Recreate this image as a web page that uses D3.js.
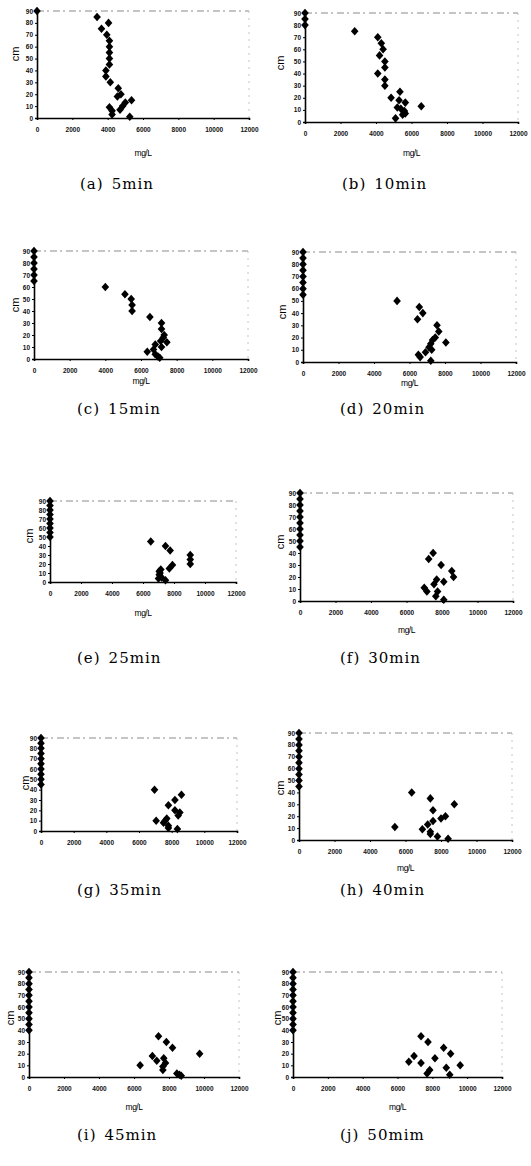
<!DOCTYPE html>
<html>
<head>
<meta charset="utf-8">
<script src="https://cdn.jsdelivr.net/npm/d3@7"></script>
<style>
body { margin: 0; background: #fff; }
</style>
</head>
<body>
<div id="fig"></div>
<script>
var width = 531;
var height = 1166;

// axis ticks shared by every panel
var xTicks = [0, 2000, 4000, 6000, 8000, 10000, 12000];
var yTicks = [0, 10, 20, 30, 40, 50, 60, 70, 80, 90];

// [concentration mg/L, depth cm]
var points5 = [[0,90],[3400,85],[4050,80],[3650,75],[3950,70],[4100,65],[4100,60],[4100,55],[4100,50],[4100,45],
    [3900,40],[3900,35],[4150,30],[4600,25],[4750,20],[4550,18],[5350,15],[5000,13],[4850,10],[4100,9],
    [4700,7],[4250,6],[4250,3],[5250,1]];
var points10 = [[0,90],[0,85],[0,80],[2800,75],[4100,70],[4300,65],[4400,60],[4200,55],[4500,50],[4500,45],
    [4100,40],[4500,35],[4500,30],[5350,25],[4850,20],[5300,18],[5650,16],[6550,13],[5200,12],[5400,11],
    [5600,9],[5650,7],[5500,6],[5100,3]];
var points15 = [[0,90],[0,85],[0,80],[0,75],[0,70],[0,65],[4000,60],[5100,54],[5450,50],[5500,45],[5500,40],
    [6500,35],[7150,30],[7150,25],[7300,20],[7250,18],[7450,14],[7100,15],[7150,10],[6800,12],[6700,8],
    [6350,6],[6800,4],[6950,2],[7050,1]];
var points20 = [[0,90],[0,85],[0,80],[0,75],[0,70],[0,65],[0,60],[0,55],[5300,50],[6550,45],[6750,40],
    [6450,35],[7550,30],[7650,25],[7450,20],[7300,18],[7200,15],[7100,12],[7250,10],[6900,8],[8050,16],
    [6500,6],[6600,4],[7200,1]];
var points25 = [[0,90],[0,85],[0,80],[0,75],[0,70],[0,65],[0,60],[0,55],[0,50],[6500,45],[7450,40],[7750,35],
    [9050,30],[9050,25],[9050,20],[7900,19],[7700,15],[7150,14],[7050,12],[7100,10],[7050,8],[7200,5],
    [7000,4],[7450,2]];
var points30 = [[0,90],[0,85],[0,80],[0,75],[0,70],[0,65],[0,60],[0,55],[0,50],[0,45],[7500,40],[7250,35],
    [7950,30],[8550,25],[8650,20],[7700,18],[8100,16],[7550,14],[7000,11],[7150,8],[7750,8],[7650,4],
    [8100,1]];
var points35 = [[0,90],[0,85],[0,80],[0,75],[0,70],[0,65],[0,60],[0,55],[0,50],[0,45],[6950,40],[8600,35],
    [8200,30],[7800,25],[8200,20],[8500,18],[8400,15],[7700,12],[7600,10],[7050,10],[7500,8],[7800,5],
    [7800,3],[8350,2]];
var points40 = [[0,90],[0,85],[0,80],[0,75],[0,70],[0,65],[0,60],[0,55],[0,50],[0,45],[6350,40],[7400,35],
    [8750,30],[7550,25],[8250,20],[8000,18],[7550,16],[7250,13],[5400,11],[6950,9],[7400,7],[7400,5],
    [7800,3],[8400,1]];
var points45 = [[0,90],[0,85],[0,80],[0,75],[0,70],[0,65],[0,60],[0,55],[0,50],[0,45],[0,40],[7400,35],
    [7850,30],[8200,25],[9750,20],[7050,18],[7700,16],[7300,14],[7800,12],[6350,10],[7650,9],[7650,6],
    [8450,3],[8600,2],[8700,1]];
var points50 = [[0,90],[0,85],[0,80],[0,75],[0,70],[0,65],[0,60],[0,55],[0,50],[0,45],[0,40],[7350,35],
    [7750,30],[8650,25],[9050,20],[6950,18],[8150,16],[6650,13],[7350,12],[9600,10],[8800,8],[7850,6],
    [7700,3],[9000,2]];

var allPoints = [points5, points10, points15, points20, points25, points30, points35, points40, points45, points50];
var captionLetters = ["(a)", "(b)", "(c)", "(d)", "(e)", "(f)", "(g)", "(h)", "(i)", "(j)"];
var captionTimes = ["5min", "10min", "15min", "20min", "25min", "30min", "35min", "40min", "45min", "50mim"];
var yTitle = "cm";
var xTitle = "mg/L";

// plot frames of the scanned panels (they are not all the same size)
var frames = [
    {l: 37, t: 11, r: 249, b: 118, cmX: 15, cmY: 54, labY: 153, capX: 80, capY: 184},
    {l: 305, t: 13, r: 518, b: 122, cmX: 280, cmY: 63, labY: 153, capX: 342, capY: 184},
    {l: 34, t: 251, r: 248, b: 359, cmX: 15, cmY: 305, labY: 381, capX: 77, capY: 409},
    {l: 303, t: 252, r: 516, b: 362, cmX: 282, cmY: 312, labY: 383, capX: 340, capY: 409},
    {l: 50, t: 501, r: 236, b: 582, cmX: 29, cmY: 536, labY: 613, capX: 77, capY: 658},
    {l: 300, t: 493, r: 513, b: 601, cmX: 280, cmY: 542, labY: 630, capX: 340, capY: 658},
    {l: 41, t: 738, r: 237, b: 831, cmX: 25, cmY: 783, labY: null, capX: 77, capY: 890},
    {l: 299, t: 733, r: 512, b: 840, cmX: 280, cmY: 788, labY: 868, capX: 340, capY: 890},
    {l: 29, t: 972, r: 239, b: 1077, cmX: 10, cmY: 1018, labY: 1107, capX: 77, capY: 1135},
    {l: 293, t: 972, r: 502, b: 1077, cmX: 277, cmY: 1018, labY: 1107, capX: 340, capY: 1135}
];

var svg = d3.select("#fig").append("svg")
    .attr("width", width)
    .attr("height", height)
    .style("font-family", "'Liberation Sans', Arial, sans-serif");

// Excel style diamond = square turned 45 degrees
var diamond = d3.symbol().type(d3.symbolSquare).size(29);

frames.forEach(function (f, i) {
    var g = svg.append("g");
    var x = d3.scaleLinear().domain([0, 12000]).range([f.l, f.r]);
    var y = d3.scaleLinear().domain([0, 90]).range([f.b, f.t]);

    // faint plot-area border (top / right)
    g.append("line").attr("x1", x(0)).attr("x2", x(12000)).attr("y1", y(90)).attr("y2", y(90))
        .attr("stroke", "#8a8a8a").attr("stroke-width", 1).attr("stroke-dasharray", "7,3,2,4");
    g.append("line").attr("x1", x(12000)).attr("x2", x(12000)).attr("y1", y(90)).attr("y2", y(0))
        .attr("stroke", "#c4c4c4").attr("stroke-width", 1).attr("stroke-dasharray", "2,5");

    var yAxis = d3.axisLeft(y).tickValues(yTicks).tickSize(2).tickPadding(2);
    var xAxis = d3.axisBottom(x).tickValues(xTicks).tickSize(2).tickPadding(7).tickFormat(d3.format("d"));

    var ya = g.append("g").attr("transform", "translate(" + f.l + ",0)").call(yAxis);
    var xa = g.append("g").attr("transform", "translate(0," + f.b + ")").call(xAxis);
    [ya, xa].forEach(function (a) {
        a.select(".domain").attr("stroke", "#000").attr("stroke-width", 1.6);
        a.selectAll(".tick line").attr("stroke", "#000");
        a.selectAll(".tick text").attr("font-size", "6.5px").attr("font-weight", "bold")
            .attr("font-family", "'Liberation Sans', Arial, sans-serif").attr("fill", "#111");
    });

    g.append("text")
        .attr("transform", "translate(" + f.cmX + "," + f.cmY + ") rotate(-90)")
        .attr("text-anchor", "middle").attr("dy", "0.35em")
        .attr("font-size", "11px").text(yTitle);

    if (f.labY !== null) {
        g.append("text").attr("x", (f.l + f.r) / 2).attr("y", f.labY)
            .attr("text-anchor", "middle").attr("dy", "0.35em")
            .attr("font-size", "8.5px").attr("letter-spacing", "-0.5px").text(xTitle);
    }

    g.selectAll("path.pt").data(allPoints[i]).enter().append("path")
        .attr("class", "pt")
        .attr("d", diamond)
        .attr("transform", function (d) {
            return "translate(" + x(d[0]) + "," + y(d[1]) + ") scale(1,1.12) rotate(45)";
        })
        .attr("fill", "#000");

    var cap = g.append("text").attr("x", f.capX).attr("y", f.capY).attr("dy", "0.35em")
        .attr("font-family", "'DejaVu Serif', 'Liberation Serif', serif")
        .attr("font-size", "15px").attr("letter-spacing", "1px");
    cap.append("tspan").text(captionLetters[i]);
    cap.append("tspan").attr("dx", 8).text(captionTimes[i]);
});
</script>
</body>
</html>
